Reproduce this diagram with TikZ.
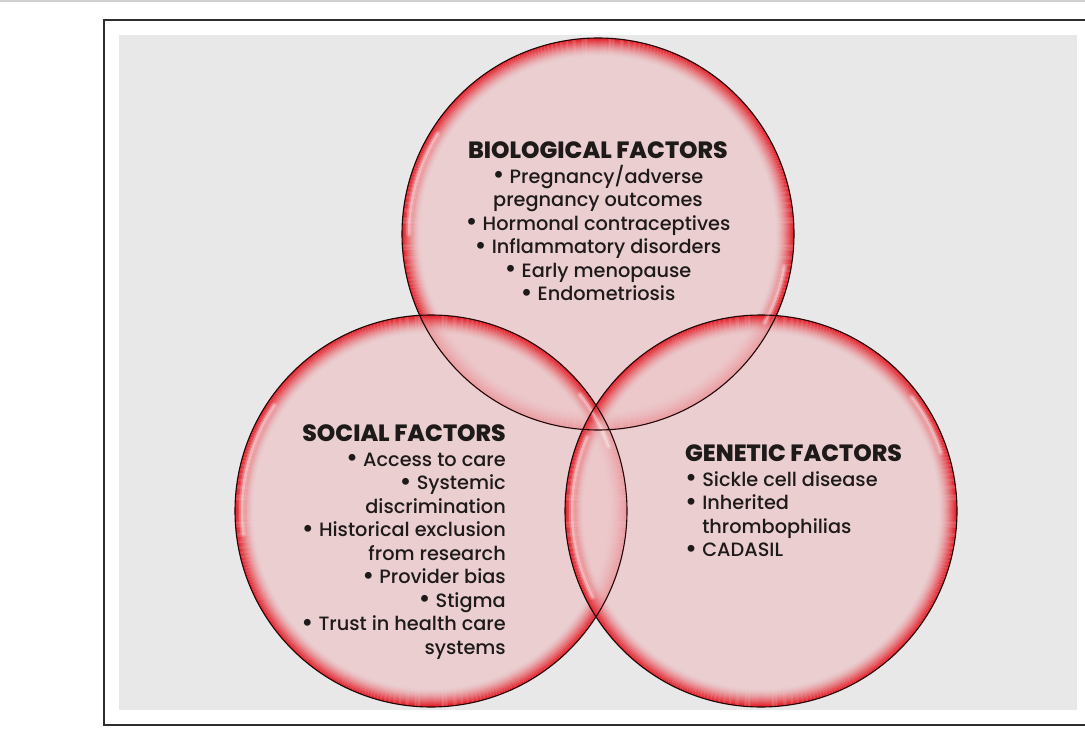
\documentclass[tikz,border=0pt]{standalone}
\usepackage{fontspec}
\setmainfont{Poppins}[UprightFont={* Medium}, BoldFont={* ExtraBold}]
\definecolor{bggrey}{HTML}{E8E8E8}
\definecolor{framegrey}{HTML}{2E2E2E}
\definecolor{pinkbase}{HTML}{EDC6C9}
\definecolor{rimred}{HTML}{E41E28}
\definecolor{outline}{HTML}{220606}
\definecolor{textdark}{HTML}{1E1A1A}
\newcommand\ttlfnt{\bfseries\fontsize{23.5}{23.5}\selectfont}
\newcommand\bul{\raisebox{-0.08ex}{\scalebox{1.35}{•}}}
\begin{document}
\begin{tikzpicture}[x=1pt,y=-1pt,
  pinkfill/.style={fill=pinkbase, fill opacity=0.75},
  rimring/.style={draw=rimred, line width=1.05pt},
  rimline/.style={draw=outline, line width=1.1pt},
  gloss/.style={draw=white, line cap=round},
  bodytext/.style={inner sep=0pt, text=textdark, font=\fontsize{19.3}{23.5}\selectfont}
]
\useasboundingbox (0,0) rectangle (1085,730);
\coordinate (tl0) at (0,1);
\coordinate (tr0) at (1085,1);
\draw[black!18, line width=1.2pt] (tl0) -- (tr0);
\fill[bggrey] (119,35) rectangle (1077,710);
\coordinate (fa) at (1090,20);
\coordinate (fb) at (104,20);
\coordinate (fc) at (104,725);
\coordinate (fd) at (1090,725);
\draw[framegrey, line width=2.2pt] (fa) -- (fb) -- (fc) -- (fd);

\coordinate (top) at (598,234);
\coordinate (left) at (431,511);
\coordinate (right) at (761,511);
\def\R{196}

\foreach \c in {top,left,right}{
  \fill[pinkfill] (\c) circle (\R);
  \foreach \i in {0,...,17}{
    \pgfmathsetmacro\op{1.0*(1-\i/18)^1.7}
    \draw[rimring, draw opacity=\op] (\c) circle ({\R-0.5-\i});
  }
}
% gloss highlights
\foreach \c/\a/\b in {top/180/212, top/10/28, right/153/203, right/323/342, left/173/214, left/322/340}{
  \draw[gloss, line width=6pt, draw opacity=0.18] ([shift={(\a:189)}]\c) arc[start angle=\a, end angle=\b, radius=189];
  \draw[gloss, line width=2.5pt, draw opacity=0.35] ([shift={(\a:189)}]\c) arc[start angle=\a, end angle=\b, radius=189];
}
\foreach \c in {top,left,right}{
  \draw[rimline] (\c) circle (\R);
}

\node[bodytext, align=center, anchor=north] (bio) at (598,141)
  {{\ttlfnt BIOLOGICAL FACTORS}\\[1.5pt]
   \bul\ Pregnancy/adverse\\
   pregnancy outcomes\\
   \bul\ Hormonal contraceptives\\
   \bul\ Inflammatory disorders\\
   \bul\ Early menopause\\
   \bul\ Endometriosis};

\node[bodytext, align=right, anchor=north east] (soc) at (506,424)
  {{\ttlfnt SOCIAL FACTORS}\\[1.5pt]
   \bul\ Access to care\\
   \bul\ Systemic\\
   discrimination\\
   \bul\ Historical exclusion\\
   from research\\
   \bul\ Provider bias\\
   \bul\ Stigma\\
   \bul\ Trust in health care\\
   systems};

\node[bodytext, align=left, anchor=north west] (gen) at (685,444)
  {{\ttlfnt GENETIC FACTORS}\\[1.5pt]
   \bul\ Sickle cell disease\\
   \bul\ Inherited\\
   \hphantom{\bul}\ thrombophilias\\
   \bul\ CADASIL};
\end{tikzpicture}
\end{document}
